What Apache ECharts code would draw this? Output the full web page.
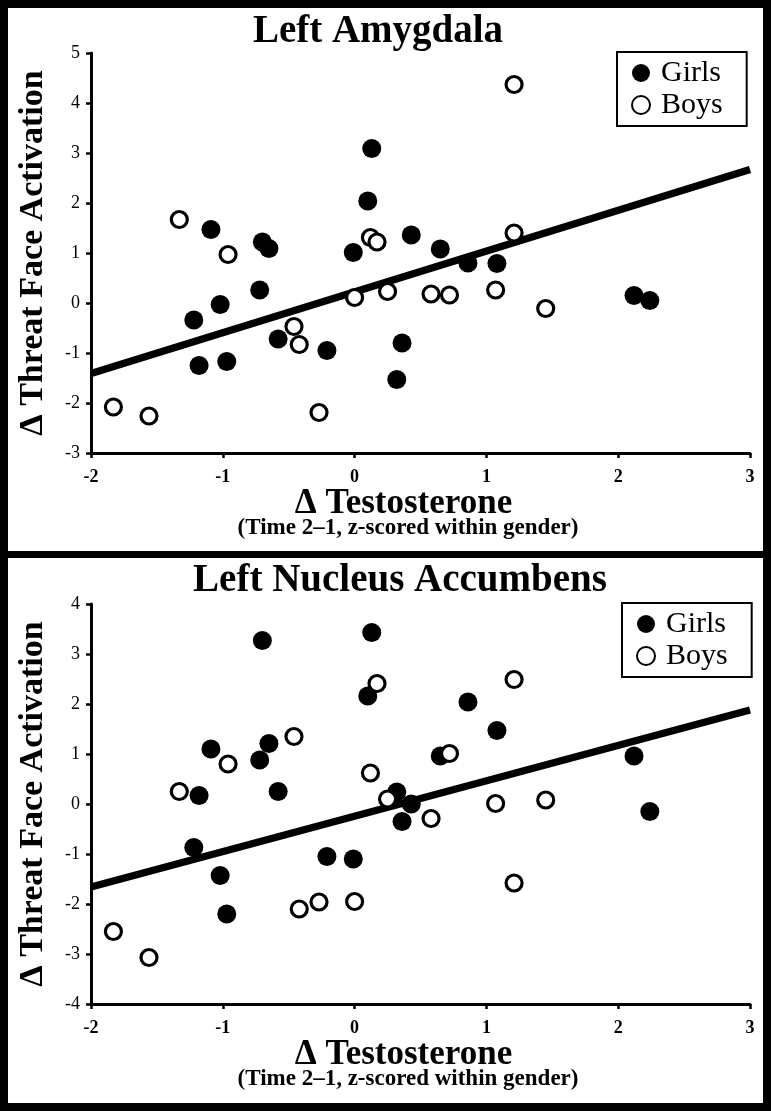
<!DOCTYPE html>
<html>
<head>
<meta charset="utf-8">
<script src="https://cdn.jsdelivr.net/npm/echarts@6/dist/echarts.min.js"></script>
<style>
html,body{margin:0;padding:0;background:#fff;}
#c{width:771px;height:1111px;}
</style>
</head>
<body>
<div id="c"></div>
<script>
// ---- data ----
const panelTitles = ['Left Amygdala', 'Left Nucleus Accumbens'];
const yAxisTitle = 'Δ Threat Face Activation';
const xAxisTitle = 'Δ Testosterone';
const xAxisSubtitle = '(Time 2–1, z-scored within gender)';
const seriesNames = ['Girls', 'Boys'];

const girlsX = [-1.22, -1.18, -1.09, -1.02, -0.97, -0.72, -0.70, -0.65, -0.58, -0.21, -0.01, 0.10, 0.13, 0.32, 0.36, 0.43, 0.65, 0.86, 1.08, 2.12, 2.24];
const girlsAmygdala = [-0.34, -1.25, 1.47, -0.03, -1.17, 0.26, 1.22, 1.09, -0.72, -0.95, 1.01, 2.04, 3.09, -1.53, -0.80, 1.36, 1.08, 0.80, 0.79, 0.15, 0.05];
const girlsAccumbens = [-0.87, 0.17, 1.10, -1.43, -2.20, 0.88, 3.27, 1.21, 0.25, -1.05, -1.10, 2.16, 3.43, 0.24, -0.35, 0.00, 0.96, 2.04, 1.47, 0.96, -0.15];

const boysX = [-1.83, -1.56, -1.33, -0.96, -0.46, -0.42, -0.27, 0.00, 0.12, 0.17, 0.25, 0.58, 0.72, 1.07, 1.21, 1.21, 1.45];
const boysAmygdala = [-2.08, -2.26, 1.67, 0.97, -0.47, -0.83, -2.19, 0.11, 1.31, 1.22, 0.23, 0.18, 0.16, 0.26, 4.37, 1.40, -0.11];
const boysAccumbens = [-2.55, -3.07, 0.25, 0.80, 1.35, -2.10, -1.96, -1.95, 0.62, 2.41, 0.10, -0.29, 1.01, 0.01, 2.49, -1.58, 0.08];

const fitX = [-2, 3];
const amygdalaFit = [-1.41, 2.67];
const accumbensFit = [-1.66, 1.88];

const xRange = [-2, 3];
const amygdalaYRange = [-3, 5];
const accumbensYRange = [-4, 4];
// --------------

const FONT = '"Liberation Serif", "Times New Roman", serif';
const zip = (a, b) => a.map((v, i) => [v, b[i]]);

const grids = [
  {left: 91, top: 53, width: 659, height: 400},
  {left: 91, top: 604, width: 659, height: 400}
];

function xAx(i) {
  return {
    gridIndex: i, type: 'value', min: xRange[0], max: xRange[1], interval: 1,
    splitLine: {show: false},
    axisLine: {onZero: false, lineStyle: {color: '#000', width: 3}},
    axisTick: {inside: false, length: 5, lineStyle: {color: '#000', width: 2.5}},
    axisLabel: {color: '#000', fontFamily: FONT, fontSize: 18, fontWeight: 'bold', margin: 15},
    name: xAxisTitle, nameLocation: 'middle', nameGap: 28,
    nameTextStyle: {color: '#000', fontFamily: FONT, fontSize: 35, fontWeight: 'bold', padding: [0, 34, 0, 0]}
  };
}
function yAx(i, r) {
  return {
    gridIndex: i, type: 'value', min: r[0], max: r[1], interval: 1,
    splitLine: {show: false},
    axisLine: {onZero: false, lineStyle: {color: '#000', width: 3}},
    axisTick: {inside: false, length: 5, lineStyle: {color: '#000', width: 2.5}},
    axisLabel: {color: '#000', fontFamily: FONT, fontSize: 18, margin: 11},
    name: yAxisTitle, nameLocation: 'middle', nameGap: 41, nameRotate: 90,
    nameTextStyle: {color: '#000', fontFamily: FONT, fontSize: 34, fontWeight: 'bold'}
  };
}

function panelSeries(i, girlsY, boysY, fitY) {
  return [
    {type: 'line', xAxisIndex: i, yAxisIndex: i, data: zip(fitX, fitY), showSymbol: false, symbol: 'none',
     lineStyle: {color: '#000', width: 7.5}, z: 1, silent: true},
    {name: seriesNames[0], type: 'scatter', xAxisIndex: i, yAxisIndex: i, data: zip(girlsX, girlsY),
     symbol: 'circle', symbolSize: 19, itemStyle: {color: '#000', opacity: 1}, z: 2},
    {name: seriesNames[1], type: 'scatter', xAxisIndex: i, yAxisIndex: i, data: zip(boysX, boysY),
     symbol: 'circle', symbolSize: 16, itemStyle: {color: '#fff', borderColor: '#000', borderWidth: 3.2, opacity: 1}, z: 3}
  ];
}

function legendAt(left, top) {
  return {
    left: left, top: top, orient: 'vertical', data: seriesNames,
    borderColor: '#000', borderWidth: 2, padding: [6, 24, 6, 14], itemGap: 2,
    itemWidth: 18, itemHeight: 18, selectedMode: false,
    textStyle: {color: '#000', fontFamily: FONT, fontSize: 30, lineHeight: 28, padding: [0, 0, 0, 6]}
  };
}

const B = 8;
const option = {
  backgroundColor: '#fff',
  animation: false,
  textStyle: {fontFamily: FONT},
  grid: grids,
  xAxis: [xAx(0), xAx(1)],
  yAxis: [yAx(0, amygdalaYRange), yAx(1, accumbensYRange)],
  legend: [legendAt(617, 52), legendAt(622, 603)],
  series: [
    ...panelSeries(0, girlsAmygdala, boysAmygdala, amygdalaFit),
    ...panelSeries(1, girlsAccumbens, boysAccumbens, accumbensFit)
  ],
  graphic: [
    {type: 'rect', shape: {x: 0, y: 0, width: 771, height: B}, style: {fill: '#000'}, silent: true},
    {type: 'rect', shape: {x: 0, y: 1111 - B, width: 771, height: B}, style: {fill: '#000'}, silent: true},
    {type: 'rect', shape: {x: 0, y: 0, width: B, height: 1111}, style: {fill: '#000'}, silent: true},
    {type: 'rect', shape: {x: 771 - B, y: 0, width: B, height: 1111}, style: {fill: '#000'}, silent: true},
    {type: 'rect', shape: {x: 0, y: 551, width: 771, height: 7}, style: {fill: '#000'}, silent: true},
    {type: 'text', x: 378, y: 32, style: {text: panelTitles[0], font: 'bold 39px ' + FONT, fill: '#000', textAlign: 'center', textVerticalAlign: 'middle'}},
    {type: 'text', x: 400, y: 581, style: {text: panelTitles[1], font: 'bold 39px ' + FONT, fill: '#000', textAlign: 'center', textVerticalAlign: 'middle'}},
    {type: 'text', x: 408, y: 528, style: {text: xAxisSubtitle, font: 'bold 23px ' + FONT, fill: '#000', textAlign: 'center', textVerticalAlign: 'middle'}},
    {type: 'text', x: 408, y: 1079, style: {text: xAxisSubtitle, font: 'bold 23px ' + FONT, fill: '#000', textAlign: 'center', textVerticalAlign: 'middle'}}
  ]
};

const chart = echarts.init(document.getElementById('c'), null, {renderer: 'canvas'});
chart.setOption(option);
</script>
</body>
</html>
